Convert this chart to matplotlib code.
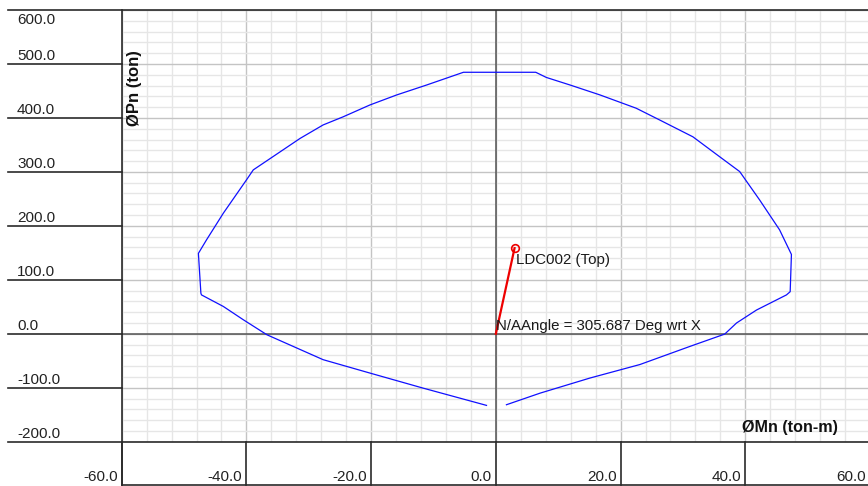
import matplotlib
matplotlib.use("Agg")
import matplotlib.pyplot as plt
from matplotlib.ticker import MultipleLocator
from matplotlib.lines import Line2D
from matplotlib.transforms import blended_transform_factory

plt.rcParams['font.family'] = ['Liberation Sans', 'DejaVu Sans']

# Interaction diagram (phi*Mn, phi*Pn), traced from the tension side around the top
mn_values = [-1.5, -11.7, -20.2, -27.7, -31.9, -36.7, -40.5, -43.7, -47.2, -47.3, -47.7,
             -46.4, -43.7, -40.0, -38.9, -34.1, -31.4, -27.7, -24.5, -20.2, -15.9, -11.1, -5.2,
             6.4, 8.1, 11.9, 16.7, 22.5, 26.3, 31.6, 35.9, 39.1, 42.3, 45.5, 47.4,
             47.2, 46.6, 41.8, 38.6, 36.7, 31.1, 23.1, 15.1, 7.1, 1.7]
pn_values = [-132.7, -100.6, -72.8, -48.0, -26.5, -1.9, 26.0, 50.6, 72.0, 75.0, 149.0,
             174.0, 223.5, 285.0, 303.7, 341.0, 362.0, 387.0, 402.0, 424.0, 442.6, 461.0, 484.6,
             484.6, 475.0, 461.0, 442.6, 418.0, 396.0, 365.0, 328.0, 300.6, 248.0, 192.6, 147.0,
             78.0, 72.0, 44.0, 20.0, -0.6, -23.5, -57.0, -82.0, -110.0, -131.5]

# Load combination demand point
load_mn = 3.0
load_pn = 158.7
load_label = "LDC002 (Top)"
angle_label = "N/AAngle = 305.687 Deg wrt X"

x_ticks = [-60, -40, -20, 0, 20, 40, 60]
y_ticks = [-200, -100, 0, 100, 200, 300, 400, 500, 600]
x_tick_labels = ["-60.0", "-40.0", "-20.0", "0.0", "20.0", "40.0", "60.0"]
y_tick_labels = ["-200.0", "-100.0", "0.0", "100.0", "200.0", "300.0", "400.0", "500.0", "600.0"]

W, H = 868, 486
fig = plt.figure(figsize=(W / 100, H / 100), dpi=100)
fig.patch.set_facecolor('white')

left_px, right_px = 121.7, 870.0
top_px, bottom_px = 10.0, 441.7
ax = fig.add_axes([left_px / W, (H - bottom_px) / H,
                   (right_px - left_px) / W, (bottom_px - top_px) / H])
ax.set_xlim(-60, 60)
ax.set_ylim(-200, 600)

ax.xaxis.set_major_locator(MultipleLocator(20))
ax.xaxis.set_minor_locator(MultipleLocator(4))
ax.yaxis.set_major_locator(MultipleLocator(100))
ax.yaxis.set_minor_locator(MultipleLocator(20))
ax.grid(which='minor', color='#e6e6e6', lw=1.0)
ax.grid(which='major', color='#c4c4c4', lw=1.0)
ax.set_axisbelow(True)
ax.tick_params(which='both', length=0, labelleft=False, labelbottom=False)
for s in ax.spines.values():
    s.set_visible(False)

# Zero axes
ax.axhline(0, color='#555555', lw=1.1, zorder=2)
ax.axvline(0, color='#555555', lw=1.1, zorder=2)

# Interaction curve
ax.plot(mn_values, pn_values, color='#1010ff', lw=0.9, zorder=3)

# Demand line and point
ax.plot([0, load_mn], [0, load_pn], color='#ee0000', lw=1.6, zorder=4)
ax.plot([load_mn], [load_pn], marker='o', ms=5.5, mfc='none', mec='#ee0000', mew=1.2, zorder=5)
ax.annotate(load_label, (load_mn, load_pn), xytext=(1, -12), textcoords='offset pixels',
            ha='left', va='center', fontsize=10.8, color='#1a1a1a', zorder=6)
ax.annotate(angle_label, (0, 0), xytext=(0, 8), textcoords='offset pixels',
            ha='left', va='center', fontsize=10.8, color='#1a1a1a', zorder=6)

# Axis titles
fig.text(790 / W, 1 - 427 / H, "ØMn (ton-m)", ha='center', va='center',
         fontsize=11.6, fontweight='bold', color='#111111')
fig.text(135 / W, 1 - 50 / H, "ØPn (ton)", rotation=90, ha='center', va='top',
         fontsize=12, fontweight='bold', color='#111111')

frame_color = '#2a2a2a'
ty = blended_transform_factory(fig.transFigure, ax.transData)
tx = blended_transform_factory(ax.transData, fig.transFigure)

# Left label column: rule lines at each y tick, labels sitting above them
for v, lab in zip(y_ticks, y_tick_labels):
    x_end = left_px / W if v not in (y_ticks[0], y_ticks[-1]) else 1.0
    fig.add_artist(Line2D([8 / W, x_end], [v, v], transform=ty, color=frame_color,
                          lw=1.2, clip_on=False))
    dy = 8 if v != y_ticks[-1] else -10
    ax.annotate(lab, xy=(17 / W, v), xycoords=ty, xytext=(0, dy), textcoords='offset pixels',
                ha='left', va='center', fontsize=11, color='#222222', annotation_clip=False)

# Bottom label row: vertical rules at each x tick, labels to their left
for v, lab in zip(x_ticks, x_tick_labels):
    fig.add_artist(Line2D([v, v], [0.002, (H - bottom_px) / H], transform=tx,
                          color=frame_color, lw=1.2, clip_on=False))
    ax.annotate(lab, xy=(v, (H - 476.7) / H), xycoords=tx, xytext=(-4, 0),
                textcoords='offset pixels', ha='right', va='center', fontsize=11,
                color='#222222', annotation_clip=False)

# Frame lines: plot left edge down to the bottom, and the bottom rule
fig.add_artist(Line2D([left_px / W, left_px / W], [0.002, 1 - top_px / H],
                      color=frame_color, lw=1.2))
fig.add_artist(Line2D([left_px / W, 1.0], [1.2 / H, 1.2 / H], color=frame_color, lw=1.2))

fig.savefig("out.png", dpi=100)
